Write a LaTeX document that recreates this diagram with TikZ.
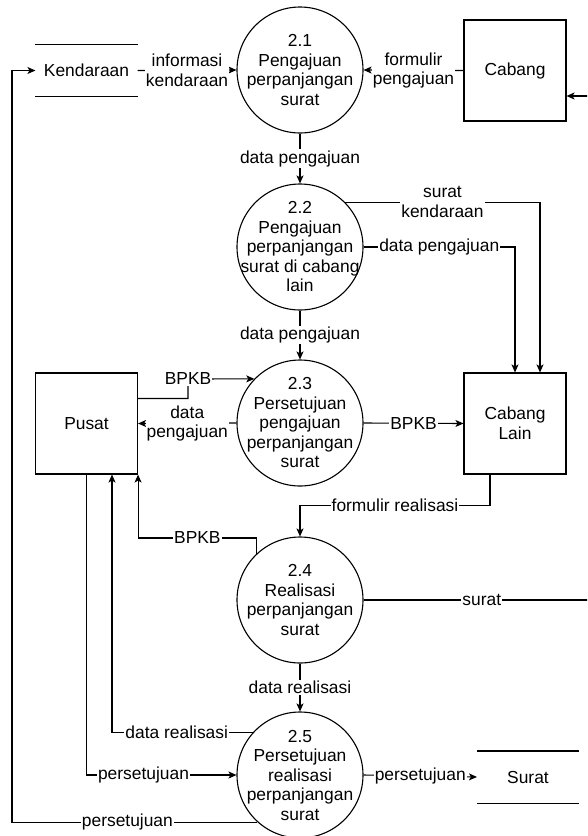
\documentclass[tikz,border=0pt]{standalone}
\usepackage{fontspec}
\setmainfont{Liberation Sans}
\usetikzlibrary{arrows.meta,calc}
\newcommand\dfdfont{\fontsize{17.4}{19.5}\selectfont}

\begin{document}
\begin{tikzpicture}[x=1pt,y=-1pt,font=\dfdfont,line width=1.1pt,
  proc/.style={circle,draw,minimum size=126pt,inner sep=0pt},
  ptext/.style={align=center,inner sep=0pt},
  ext/.style={rectangle,draw,minimum width=102pt,minimum height=101pt,align=center},
  store/.style={minimum width=101pt,minimum height=51pt,inner sep=0pt},
  lab/.style={fill=white,inner sep=1pt,align=center},
  flow/.style={-{Stealth[length=8pt,width=7pt,inset=2pt]}}]
\useasboundingbox (0,0) rectangle (587,836);
\clip (0,0) rectangle (587,836);

% processes
\node[proc] (p1) at (300,70) {};
\node[ptext] (p1t) at (p1) {2.1\\Pengajuan\\perpanjangan\\surat};
\node[proc] (p2) at (300,247) {};
\node[ptext] (p2t) at (p2) {2.2\\Pengajuan\\perpanjangan\\surat di cabang\\lain};
\node[proc] (p3) at (300,423) {};
\node[ptext] (p3t) at (p3) {2.3\\Persetujuan\\pengajuan\\perpanjangan\\surat};
\node[proc] (p4) at (300,600) {};
\node[ptext] (p4t) at (p4) {2.4\\Realisasi\\perpanjangan\\surat};
\node[proc] (p5) at (300,775) {};
\node[ptext] (p5t) at (p5) {2.5\\Persetujuan\\realisasi\\perpanjangan\\surat};

% external entities
\node[ext] (cab) at (515,70.5) {Cabang};
\node[ext] (cl) at (515,423.5) {Cabang\\Lain};
\node[ext] (pusat) at (86.5,423.5) {Pusat};

% data stores
\node[store] (kend) at (86.5,70.5) {Kendaraan};
\draw (kend.north west) -- (kend.north east) (kend.south west) -- (kend.south east);
\node[store] (surat) at (528,777) {Surat};
\draw (surat.north west) -- (surat.north east) (surat.south west) -- (surat.south east);

% flows
\draw[flow] (kend.east) -- node[lab] {informasi\\kendaraan} (p1.west);
\draw[flow] (cab.west) -- node[lab] {formulir\\pengajuan} (p1.east);
\draw[flow] (p1.south) -- node[lab] {data pengajuan} (p2.north);

\draw[flow] (p2.45) -| node[pos=0.25,lab] {surat\\kendaraan} ($(cl.north)+(25,0)$);
\draw[flow] (p2.east) -| node[pos=0.25,lab] {data pengajuan} (cl.north);
\draw[flow] (p2.south) -- node[lab] {data pengajuan} (p3.north);

\draw[flow] ($(pusat.east)+(0,-25)$) -| (188,379) node[lab] {BPKB} -- (p3.136);
\draw[flow] (p3.west) -- node[lab] {data\\pengajuan} (pusat.east);
\draw[flow] (p3.east) -- node[lab] {BPKB} (cl.west);

\draw[flow] ($(cl.south)+(-25,0)$) -- ++(0,31) -| node[pos=0.25,lab] {formulir realisasi} (p4.north);
\draw[flow] (p4.133) -- (p4.133 |- 0,538) -| node[pos=0.25,lab] {BPKB} (pusat.south east);
\draw[flow] (p4.east) -- node[lab] {surat} (600,600) |- ($(cab.east)+(0,25.5)$);
\draw[flow] (p4.south) -- node[lab] {data realisasi} (p5.north);

\draw[flow] (p5.138) -| node[pos=0.27,lab] {data realisasi} ($(pusat.south)+(25.5,0)$);
\draw[flow] (pusat.south) |- node[pos=0.69,lab] {persetujuan} (p5.west);
\draw[flow] (p5.228) -- node[pos=0.53,lab] {persetujuan} (p5.228 -| 12,0) |- (kend.west);
\draw[flow] (p5.east) -- node[lab] {persetujuan} (surat.west);
\end{tikzpicture}
\end{document}
